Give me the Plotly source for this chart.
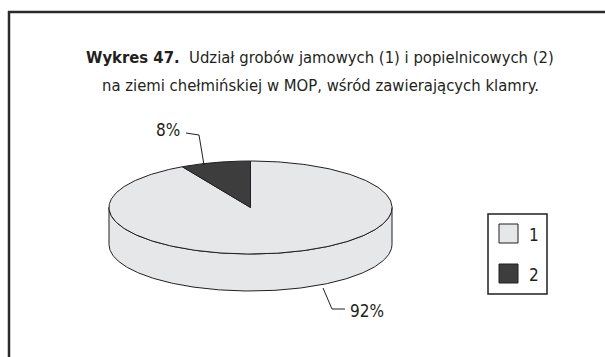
import numpy as np
import plotly.graph_objects as go

# --- data -------------------------------------------------------------
categories = ["1", "2"]
shares = [92, 8]
share_labels = ["92%", "8%"]
slice_colors = ["#e6e7e8", "#3d3d3d"]

title_bold = "Wykres 47."
title_rest = "Udział grobów jamowych (1) i popielnicowych (2)"
title_line2 = "na ziemi chełmińskiej w MOP, wśród zawierających klamry."

# --- layout constants (pixel space) ----------------------------------
W, H = 605, 357
FONT = "DejaVu Sans Condensed, Liberation Sans Narrow, sans-serif"
INK = "#231f20"
cx, cy = 250.5, 207.5      # centre of the top face
rx, ry = 141.5, 46.5       # ellipse semi-axes
depth = 37                 # thickness of the disc

def ellipse(t, dy=0.0):
    """Point on the rim; t is measured clockwise from 12 o'clock."""
    return cx + rx * np.sin(t), cy - ry * np.cos(t) + dy

fractions = np.array(shares, dtype=float) / sum(shares)
edges = np.concatenate([[0.0], np.cumsum(fractions)]) * 2 * np.pi

fig = go.Figure()

# side walls (only the front half, pi/2 .. 3pi/2, is visible)
for i, col in enumerate(slice_colors):
    a0, a1 = max(edges[i], np.pi / 2), min(edges[i + 1], 3 * np.pi / 2)
    if a1 <= a0:
        continue
    t = np.linspace(a0, a1, 200)
    xt, yt = ellipse(t)
    xb, yb = ellipse(t[::-1], depth)
    fig.add_trace(go.Scatter(
        x=np.concatenate([xt, xb, xt[:1]]), y=np.concatenate([yt, yb, yt[:1]]),
        mode="lines", fill="toself", fillcolor=col,
        line=dict(color=INK, width=1), hoverinfo="skip", showlegend=False))

# top face sectors
for i, col in enumerate(slice_colors):
    t = np.linspace(edges[i], edges[i + 1], 300)
    xa, ya = ellipse(t)
    fig.add_trace(go.Scatter(
        x=np.concatenate([[cx], xa, [cx]]), y=np.concatenate([[cy], ya, [cy]]),
        mode="lines", fill="toself", fillcolor=col,
        line=dict(color=INK, width=1), hoverinfo="skip", showlegend=False))

# leader lines and percentage labels
leaders = {
    "92%": dict(pts=[(323, 288), (332, 309), (345, 309)], text=(348, 311), anchor="left"),
    "8%": dict(pts=[(204, 165), (199, 135), (186, 133)], text=(182, 130), anchor="right"),
}
annotations = []
for lab in share_labels:
    d = leaders[lab]
    xs, ys = zip(*d["pts"])
    fig.add_trace(go.Scatter(x=xs, y=ys, mode="lines",
                             line=dict(color=INK, width=1),
                             hoverinfo="skip", showlegend=False))
    annotations.append(dict(x=d["text"][0], y=d["text"][1], text=lab,
                            xanchor=d["anchor"], yanchor="middle", showarrow=False,
                            font=dict(family=FONT, size=17, color=INK)))

# legend swatches
leg_x = 508.5
leg_y = [233.5, 273.5]
fig.add_trace(go.Scatter(
    x=[leg_x] * len(categories), y=leg_y, mode="markers",
    marker=dict(symbol="square", size=19, color=slice_colors,
                line=dict(color=INK, width=1)),
    hoverinfo="skip", showlegend=False))
for cat, yy in zip(categories, leg_y):
    annotations.append(dict(x=527, y=yy + 1, text=cat, xanchor="left", yanchor="middle",
                            showarrow=False, font=dict(family=FONT, size=17, color=INK)))

# title
annotations.append(dict(x=320, y=57, text=f"<b>{title_bold}</b>  {title_rest}",
                        xanchor="center", yanchor="middle", showarrow=False,
                        font=dict(family=FONT, size=16.5, color=INK)))
annotations.append(dict(x=320, y=85, text=title_line2,
                        xanchor="center", yanchor="middle", showarrow=False,
                        font=dict(family=FONT, size=16.5, color=INK)))

shapes = [
    # outer frame (top and left edges visible)
    dict(type="line", x0=8, y0=12, x1=W + 5, y1=12, line=dict(color="#2b2b2b", width=2.5)),
    dict(type="line", x0=9, y0=11, x1=9, y1=H + 5, line=dict(color="#2b2b2b", width=2.5)),
    # legend box
    dict(type="rect", x0=488, y0=214, x1=547, y1=294, line=dict(color=INK, width=1.5)),
]

fig.update_layout(
    width=W, height=H, margin=dict(l=0, r=0, t=0, b=0),
    paper_bgcolor="white", plot_bgcolor="white",
    xaxis=dict(range=[0, W], visible=False, fixedrange=True),
    yaxis=dict(range=[H, 0], visible=False, fixedrange=True),
    annotations=annotations, shapes=shapes,
)

fig.write_html("out.html")
